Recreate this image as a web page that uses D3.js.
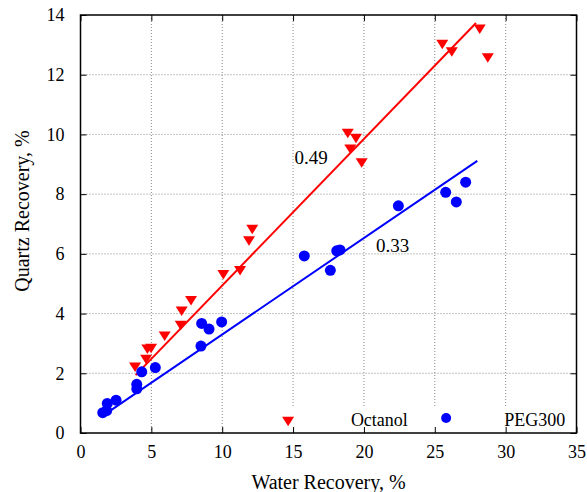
<!DOCTYPE html>
<html>
<head>
<meta charset="utf-8">
<script src="https://cdn.jsdelivr.net/npm/d3@7"></script>
<style>
  body { margin: 0; background: #fff; }
  text { font-family: "Liberation Serif", "Times New Roman", serif; fill: #000; }
</style>
</head>
<body>
<div id="chart"></div>
<script>
// Octanol (red down triangles)
var octX = [3.85, 4.63, 4.72, 4.98, 5.94, 7.07, 7.14, 7.80, 10.08, 11.26, 11.89, 12.12,
            18.86, 19.44, 19.04, 19.84, 25.53, 26.20, 28.17, 28.74];
var octY = [2.21, 2.47, 2.81, 2.84, 3.25, 3.61, 4.09, 4.44, 5.31, 5.44, 6.44, 6.82,
            10.04, 9.87, 9.51, 9.05, 13.02, 12.77, 13.53, 12.57];
// PEG300 (blue circles)
var pegX = [1.57, 1.85, 1.89, 2.51, 3.97, 3.97, 4.32, 5.28, 8.55, 9.07, 9.96, 8.50,
            15.79, 17.63, 18.08, 18.31, 22.43, 25.77, 26.52, 27.18];
var pegY = [0.68, 0.75, 0.99, 1.10, 1.63, 1.48, 2.05, 2.19, 3.67, 3.48, 3.72, 2.91,
            5.93, 5.45, 6.10, 6.13, 7.61, 8.06, 7.74, 8.40];
// linear fits: [slope, intercept, xStart, xEnd]
var octFit = [0.491, 0.03, 3.89, 27.91];
var pegFit = [0.323, 0.07, 2.08, 28.0];
var xTicks = [0, 5, 10, 15, 20, 25, 30, 35];
var yTicks = [0, 2, 4, 6, 8, 10, 12, 14];

var W = 587, H = 492;
var margin = {top: 15, right: 10.5, bottom: 59, left: 80.5},
    width = W - margin.left - margin.right,
    height = H - margin.top - margin.bottom;

var x = d3.scaleLinear().domain([0, 35]).range([0, width]),
    y = d3.scaleLinear().domain([0, 14]).range([height, 0]);

var svg = d3.select("#chart").append("svg")
    .attr("width", W)
    .attr("height", H)
    .append("g")
    .attr("transform", "translate(" + margin.left + "," + margin.top + ")");

// dotted grid
svg.selectAll(".gx").data(xTicks.slice(1, -1)).enter().append("line")
    .attr("x1", function(d) { return x(d); }).attr("x2", function(d) { return x(d); })
    .attr("y1", 0).attr("y2", height)
    .attr("stroke", "#888").attr("stroke-width", 1).attr("stroke-dasharray", "1,2");
svg.selectAll(".gy").data(yTicks.slice(1, -1)).enter().append("line")
    .attr("y1", function(d) { return y(d); }).attr("y2", function(d) { return y(d); })
    .attr("x1", 0).attr("x2", width)
    .attr("stroke", "#888").attr("stroke-width", 1).attr("stroke-dasharray", "1,2");

// key background hides grid
svg.append("rect")
    .attr("x", x(14.4)).attr("y", y(0.85))
    .attr("width", x(35) - x(14.4)).attr("height", y(0) - y(0.85))
    .attr("fill", "#fff");

// inward ticks on all four sides
var tk = 6;
svg.append("g").attr("transform", "translate(0," + height + ")")
    .call(d3.axisBottom(x).tickValues(xTicks).tickSizeInner(-tk).tickSizeOuter(0).tickPadding(12))
    .call(function(g) { g.select(".domain").remove(); });
svg.append("g")
    .call(d3.axisTop(x).tickValues(xTicks).tickSizeInner(-tk).tickSizeOuter(0).tickFormat(""))
    .call(function(g) { g.select(".domain").remove(); });
svg.append("g")
    .call(d3.axisLeft(y).tickValues(yTicks).tickSizeInner(-tk).tickSizeOuter(0).tickPadding(16))
    .call(function(g) { g.select(".domain").remove(); });
svg.append("g").attr("transform", "translate(" + width + ",0)")
    .call(d3.axisRight(y).tickValues(yTicks).tickSizeInner(-tk).tickSizeOuter(0).tickFormat(""))
    .call(function(g) { g.select(".domain").remove(); });

svg.selectAll(".tick line").attr("stroke", "#000").attr("stroke-width", 1);
svg.selectAll(".tick text").style("font-size", "18px")
    .style("font-family", "'Liberation Serif', serif");

svg.append("rect")
    .attr("x", 0).attr("y", 0).attr("width", width).attr("height", height)
    .attr("fill", "none").attr("stroke", "#000").attr("stroke-width", 1.5);

// fit lines
function fitLine(f, color) {
    svg.append("line")
        .attr("x1", x(f[2])).attr("y1", y(f[0] * f[2] + f[1]))
        .attr("x2", x(f[3])).attr("y2", y(f[0] * f[3] + f[1]))
        .attr("stroke", color).attr("stroke-width", 2);
}
fitLine(octFit, "#ff0000");
fitLine(pegFit, "#0000ff");

// down triangle marker
function tri(cx, cy) {
    return "M" + (cx - 6) + "," + (cy - 4.5) + "L" + (cx + 6) + "," + (cy - 4.5) +
           "L" + cx + "," + (cy + 5) + "Z";
}

svg.selectAll(".oct").data(octX).enter().append("path")
    .attr("d", function(d, i) { return tri(x(d), y(octY[i])); })
    .attr("fill", "#ff0000");

svg.selectAll(".peg").data(pegX).enter().append("circle")
    .attr("cx", function(d) { return x(d); })
    .attr("cy", function(d, i) { return y(pegY[i]); })
    .attr("r", 5.5)
    .attr("fill", "#0000ff");

// slope labels
svg.append("text").attr("x", x(15.1)).attr("y", y(9.0))
    .style("font-size", "19px").text("0.49");
svg.append("text").attr("x", x(20.85)).attr("y", y(6.05))
    .style("font-size", "19px").text("0.33");

// key
svg.append("path").attr("d", tri(x(14.65), y(0.39))).attr("fill", "#ff0000");
svg.append("text").attr("x", x(23.1)).attr("y", y(0.25))
    .attr("text-anchor", "end").style("font-size", "18px").text("Octanol");
svg.append("circle").attr("cx", x(25.8)).attr("cy", y(0.5)).attr("r", 5)
    .attr("fill", "#0000ff");
svg.append("text").attr("x", x(34.2)).attr("y", y(0.25))
    .attr("text-anchor", "end").style("font-size", "18px").text("PEG300");

// axis titles
svg.append("text")
    .attr("x", width / 2).attr("y", height + 56)
    .attr("text-anchor", "middle").style("font-size", "20px")
    .text("Water Recovery, %");
svg.append("text")
    .attr("transform", "translate(" + (-52) + "," + (y(7) - 13) + ") rotate(-90)")
    .attr("text-anchor", "middle").style("font-size", "20px")
    .text("Quartz Recovery, %");
</script>
</body>
</html>
